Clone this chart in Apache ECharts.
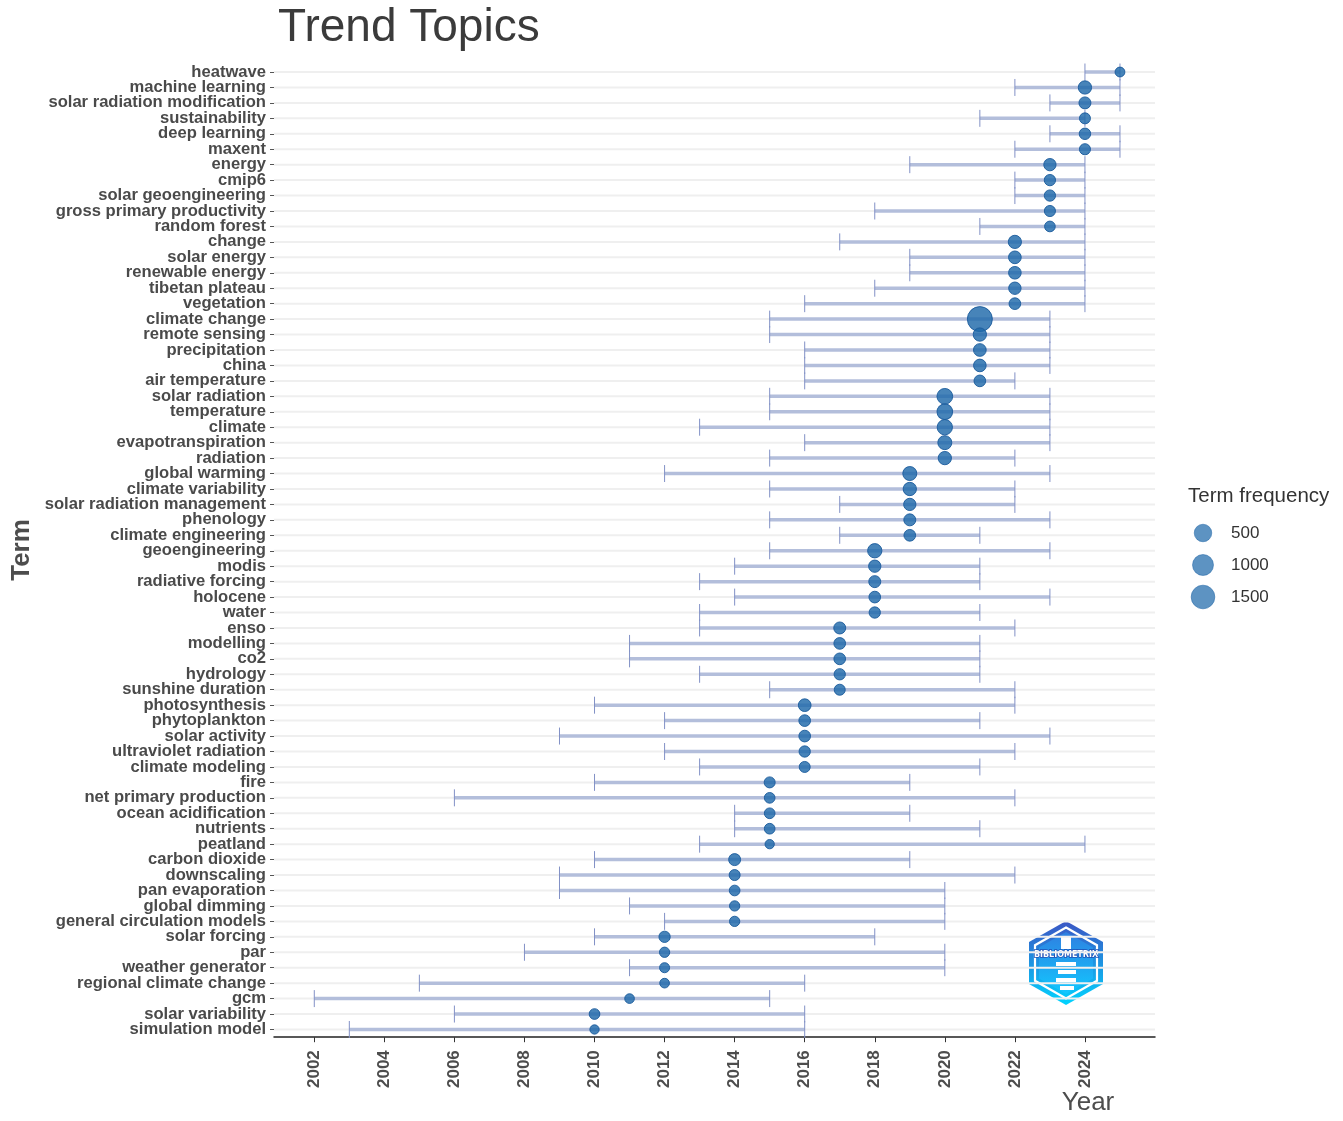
<!DOCTYPE html>
<html>
<head>
<meta charset="utf-8">
<script src="https://cdn.jsdelivr.net/npm/echarts@6/dist/echarts.min.js"></script>
<style>
html,body{margin:0;padding:0;background:#fff;}
#chart{width:1343px;height:1121px;}
</style>
</head>
<body>
<div id="chart"></div>
<script>
const terms = ["heatwave","machine learning","solar radiation modification","sustainability","deep learning","maxent","energy","cmip6","solar geoengineering","gross primary productivity","random forest","change","solar energy","renewable energy","tibetan plateau","vegetation","climate change","remote sensing","precipitation","china","air temperature","solar radiation","temperature","climate","evapotranspiration","radiation","global warming","climate variability","solar radiation management","phenology","climate engineering","geoengineering","modis","radiative forcing","holocene","water","enso","modelling","co2","hydrology","sunshine duration","photosynthesis","phytoplankton","solar activity","ultraviolet radiation","climate modeling","fire","net primary production","ocean acidification","nutrients","peatland","carbon dioxide","downscaling","pan evaporation","global dimming","general circulation models","solar forcing","par","weather generator","regional climate change","gcm","solar variability","simulation model"];
const yearQ1 = [2024,2022,2023,2021,2023,2022,2019,2022,2022,2018,2021,2017,2019,2019,2018,2016,2015,2015,2016,2016,2016,2015,2015,2013,2016,2015,2012,2015,2017,2015,2017,2015,2014,2013,2014,2013,2013,2011,2011,2013,2015,2010,2012,2009,2012,2013,2010,2006,2014,2014,2013,2010,2009,2009,2011,2012,2010,2008,2011,2005,2002,2006,2003];
const yearMedian = [2025,2024,2024,2024,2024,2024,2023,2023,2023,2023,2023,2022,2022,2022,2022,2022,2021,2021,2021,2021,2021,2020,2020,2020,2020,2020,2019,2019,2019,2019,2019,2018,2018,2018,2018,2018,2017,2017,2017,2017,2017,2016,2016,2016,2016,2016,2015,2015,2015,2015,2015,2014,2014,2014,2014,2014,2012,2012,2012,2012,2011,2010,2010];
const yearQ3 = [2025,2025,2025,2024,2025,2025,2024,2024,2024,2024,2024,2024,2024,2024,2024,2024,2023,2023,2023,2023,2022,2023,2023,2023,2023,2022,2023,2022,2022,2023,2021,2023,2021,2021,2023,2021,2022,2021,2021,2021,2022,2022,2021,2023,2022,2021,2019,2022,2019,2021,2024,2019,2022,2020,2020,2020,2018,2020,2020,2016,2015,2016,2016];
const termFreq = [18,131,68,37,50,40,81,45,45,40,30,125,99,95,85,57,1789,131,99,96,57,311,305,275,175,131,175,131,81,68,57,196,81,68,57,45,68,57,57,45,37,99,57,57,45,37,37,30,30,30,16,68,37,30,23,23,45,23,20,17,17,30,16];
const xTicks = [2002,2004,2006,2008,2010,2012,2014,2016,2018,2020,2022,2024];
const legendFreq = [500,1000,1500];

const fMin = Math.min(...termFreq), fMax = Math.max(...termFreq);
const dMin = 9.3, dMax = 25;
function dotSize(f){ return dMin + (dMax - dMin) * Math.sqrt(Math.max(0,(f - fMin)) / (fMax - fMin)); }

const GRID_L = 274, GRID_T = 64.3, GRID_W = 881, GRID_H = 972.9;
const FONT = '"Liberation Sans", Arial, sans-serif';

const chart = echarts.init(document.getElementById('chart'), null, {renderer:'canvas'});

const rangeData = terms.map((t,i)=>[yearQ1[i], yearQ3[i], i]);
const dotData = terms.map((t,i)=>[yearMedian[i], i, termFreq[i]]);

const legendGraphics = [{
  type:'text', left:1188, top:486,
  style:{text:'Term frequency', font:'20.5px ' + FONT, fill:'#333'}
}];
const legendY = [533,565,597];
legendFreq.forEach((f,k)=>{
  const r = dotSize(f)/2;
  legendGraphics.push({type:'circle', shape:{cx:1203, cy:legendY[k], r:r}, style:{fill:'rgba(30,105,170,0.72)', stroke:'rgba(30,100,165,0.5)', lineWidth:1}});
  legendGraphics.push({type:'text', x:1231, y:legendY[k], style:{text:String(f), font:'17px ' + FONT, fill:'#333', textVerticalAlign:'middle', verticalAlign:'middle'}});
});

// logo (decorative)
const cx=1066, cy=963;
function hex(rx, ry){ return [[cx,cy-ry],[cx+rx,cy-ry/2],[cx+rx,cy+ry/2],[cx,cy+ry],[cx-rx,cy+ry/2],[cx-rx,cy-ry/2]]; }
const logo = [
  {type:'polygon', shape:{points:hex(37,42)}, style:{fill:new echarts.graphic.LinearGradient(0,0,0,1,[{offset:0,color:'#3b55c4'},{offset:1,color:'#00d4ff'}])}},
  {type:'polygon', shape:{points:hex(31,35.5)}, style:{fill:'none', stroke:'#ffffff', lineWidth:2.2}},
  {type:'polygon', shape:{points:hex(27,31)}, style:{fill:new echarts.graphic.LinearGradient(0,0,0,1,[{offset:0,color:'#2f7fe0'},{offset:1,color:'#12c8ff'}])}},
  {type:'rect', shape:{x:1061, y:937, width:10, height:12}, style:{fill:'#ffffff'}},
  {type:'rect', shape:{x:1056, y:962, width:20, height:4}, style:{fill:'#ffffff'}},
  {type:'rect', shape:{x:1058, y:970, width:18, height:4}, style:{fill:'#ffffff'}},
  {type:'rect', shape:{x:1056, y:978, width:20, height:4}, style:{fill:'#ffffff'}},
  {type:'rect', shape:{x:1060, y:986, width:14, height:4}, style:{fill:'#ffffff'}},
  {type:'text', x:cx, y:955, style:{text:'BIBLIOMETRIX', font:'bold 8px "DejaVu Sans", sans-serif', fill:'#ffffff', stroke:'#1f4fb5', lineWidth:1.5, textAlign:'center', align:'center', textVerticalAlign:'middle', verticalAlign:'middle'}}
];

const option = {
  backgroundColor:'#ffffff',
  animation:false,
  title:{text:'Trend Topics', left:273, top:0, textStyle:{fontFamily:FONT, fontSize:46, fontWeight:'normal', color:'#3b3b3b'}},
  grid:{left:GRID_L, top:GRID_T, width:GRID_W, height:GRID_H, containLabel:false},
  xAxis:{
    type:'value', min:2000.85, max:2026.0,
    axisLine:{show:true, lineStyle:{color:'#222', width:1.5}},
    axisTick:{show:true, customValues:xTicks, length:5, lineStyle:{color:'#333', width:1}},
    axisLabel:{customValues:xTicks, rotate:90, margin:13, formatter:function(v){return String(Math.round(v));}, fontFamily:FONT, fontSize:17, fontWeight:'bold', color:'#4d4d4d'},
    splitLine:{show:false}
  },
  yAxis:{
    type:'category', data:terms, inverse:true,
    axisLine:{show:false},
    axisTick:{show:true, alignWithLabel:true, length:4, lineStyle:{color:'#555'}},
    axisLabel:{margin:8, fontFamily:FONT, fontSize:16.6, fontWeight:'bold', color:'#4a4a4a', interval:0},
    splitLine:{show:false}
  },
  graphic:[
    {type:'text', x:22, y:550, rotation:Math.PI/2, style:{text:'Term', font:'bold 26px ' + FONT, fill:'#4d4d4d', textAlign:'center', align:'center', textVerticalAlign:'middle', verticalAlign:'middle'}},
    {type:'text', x:1088, y:1103, style:{text:'Year', font:'26px ' + FONT, fill:'#4d4d4d', textAlign:'center', align:'center', textVerticalAlign:'middle', verticalAlign:'middle'}},
    ...legendGraphics,
    ...logo
  ],
  series:[
    {
      type:'custom', z:1,
      data:rangeData,
      encode:{x:[0,1], y:2},
      renderItem:function(params, api){
        const idx = api.value(2);
        const p1 = api.coord([api.value(0), idx]);
        const p2 = api.coord([api.value(1), idx]);
        const band = api.size([0,1])[1];
        const cs = params.coordSys;
        const h = band*0.55;
        return {type:'group', children:[
          {type:'line', shape:{x1:cs.x, y1:p1[1], x2:cs.x+cs.width, y2:p1[1]}, style:{stroke:'#efefef', lineWidth:2}},
          {type:'line', shape:{x1:p1[0], y1:p1[1], x2:p2[0], y2:p2[1]}, style:{stroke:'#b3bedb', lineWidth:3.5}},
          {type:'line', shape:{x1:p1[0], y1:p1[1]-h, x2:p1[0], y2:p1[1]+h}, style:{stroke:'#8291c6', lineWidth:1}},
          {type:'line', shape:{x1:p2[0], y1:p2[1]-h, x2:p2[0], y2:p2[1]+h}, style:{stroke:'#8291c6', lineWidth:1}}
        ]};
      }
    },
    {
      type:'scatter', z:3,
      data:dotData,
      encode:{x:0, y:1},
      symbol:'circle',
      symbolSize:function(v){ return dotSize(v[2]); },
      itemStyle:{color:'rgba(30,105,170,0.82)', borderColor:'rgba(25,90,155,0.9)', borderWidth:1, opacity:1}
    }
  ]
};
chart.setOption(option);
</script>
</body>
</html>
